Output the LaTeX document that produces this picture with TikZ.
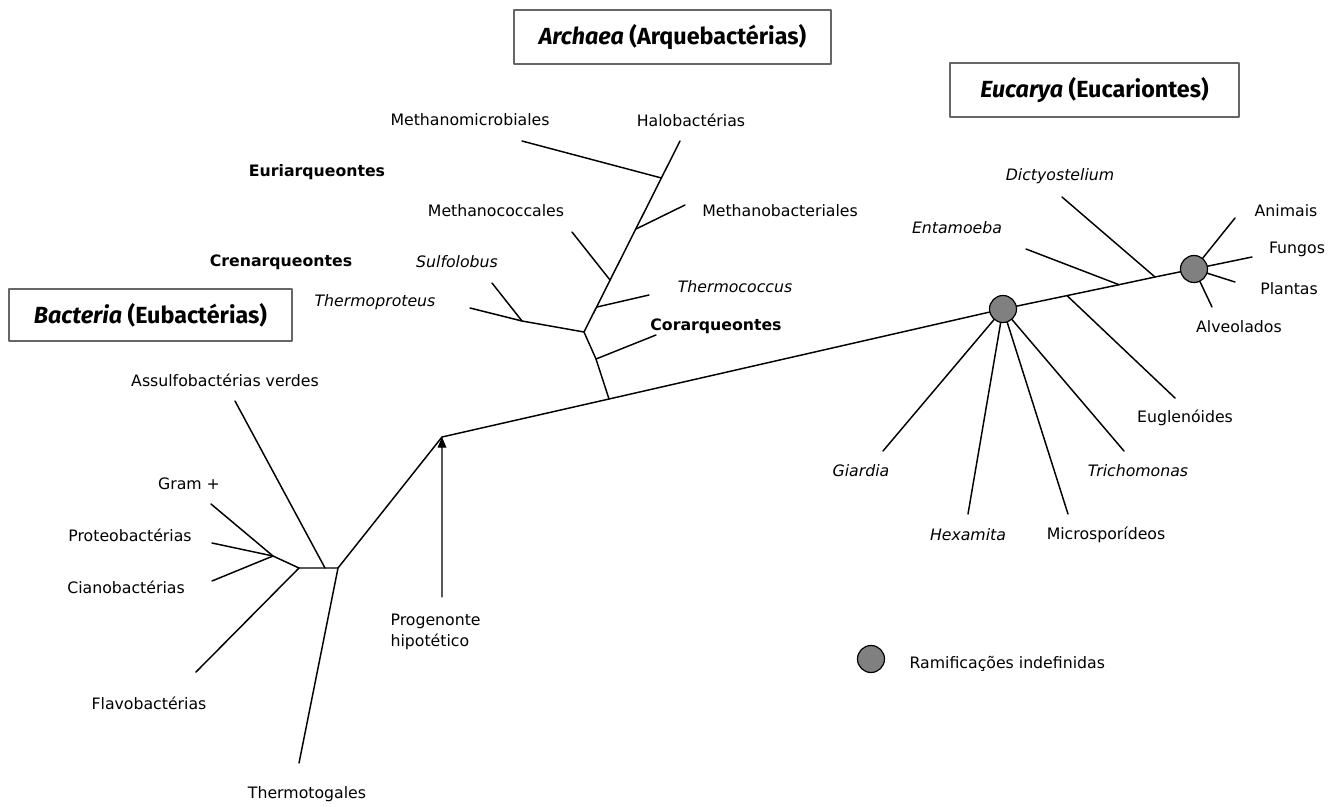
\documentclass[tikz,border=0pt]{standalone}
\usepackage{fontspec}
\setmainfont{DejaVu Sans}
\newfontfamily\titlefont{Fira Sans}
\usetikzlibrary{arrows.meta}

\begin{document}
\begin{tikzpicture}[x=0.75pt, y=-0.75pt, line cap=round, line join=round,
  branch/.style={line width=1.1pt},
  taxon/.style={inner sep=1pt, font=\fontsize{11.8}{15.75}\selectfont},
  sp/.style={taxon, font=\fontsize{11.8}{15.75}\selectfont\itshape},
  clade/.style={taxon, font=\fontsize{11.8}{15.75}\selectfont\bfseries},
  domainbox/.style={draw=gray!80!black, line width=0.8pt, inner sep=0pt,
    font=\titlefont\fontsize{17.5}{20}\selectfont\bfseries},
  hub/.style={circle, draw=black, fill=gray, line width=0.9pt,
    minimum size=20.25pt, inner sep=0pt}]
  \useasboundingbox (0,0) rectangle (1340,807);

  % domain boxes
  \node[domainbox, minimum width=212.25pt, minimum height=39pt] (bacteria) at (150.5,315) {{\itshape Bacteria} (Eubactérias)};
  \node[domainbox, minimum width=237.75pt, minimum height=40.5pt] (archaea) at (672.5,37) {{\itshape Archaea} (Arquebactérias)};
  \node[domainbox, minimum width=216.75pt, minimum height=40.5pt] (eucarya) at (1094.5,90) {{\itshape Eucarya} (Eucariontes)};

  % Bacteria
  \coordinate (prog) at (442,437);
  \coordinate (bR) at (338,568);
  \coordinate (bL) at (299,568);
  \coordinate (bG) at (273,556);
  \coordinate (bAs) at (325,568);
  \coordinate (tAs) at (235,401);
  \coordinate (tGr) at (211,504);
  \coordinate (tPr) at (212,543);
  \coordinate (tCi) at (212,581);
  \coordinate (tFl) at (196,672);
  \coordinate (tTt) at (299,763);
  \draw[branch] (prog) -- (bR) -- (bL) -- (bG) -- (tGr);
  \draw[branch] (bG) -- (tPr);
  \draw[branch] (bG) -- (tCi);
  \draw[branch] (bL) -- (tFl);
  \draw[branch] (bR) -- (tTt);
  \draw[branch] (bAs) -- (tAs);

  \node[taxon] (assulfo) at (225,380) {Assulfobactérias verdes};
  \node[taxon] (gram) at (189,484) {Gram +};
  \node[taxon] (proteo) at (130,535) {Proteobactérias};
  \node[taxon] (ciano) at (126,587) {Cianobactérias};
  \node[taxon] (flavo) at (149,703) {Flavobactérias};
  \node[taxon] (thermotoga) at (307,794) {Thermotogales};

  % progenote
  \coordinate (progtail) at (442,597);
  \draw[gray!70!black, line width=0.9pt, -{Triangle[length=8pt,width=6.5pt,black]}] (progtail) -- (prog);
  \node[taxon, anchor=west, align=left] (progenonte) at (389,632) {Progenonte\\hipotético};

  % Archaea
  \coordinate (aBase) at (609,399);
  \coordinate (aCor) at (596,359);
  \coordinate (aCren) at (584,332);
  \coordinate (aSul) at (522,321);
  \coordinate (aThc) at (597,307);
  \coordinate (aMcc) at (610,280);
  \coordinate (aMbt) at (636,229);
  \coordinate (aMmc) at (661.5,178);
  \coordinate (tHalo) at (680,141);
  \coordinate (tCor) at (656,335);
  \coordinate (tTpr) at (470,308);
  \coordinate (tSul) at (492,283);
  \coordinate (tThc) at (649,295);
  \coordinate (tMcc) at (572,232);
  \coordinate (tMbt) at (685,205);
  \coordinate (tMmc) at (522,141);
  \draw[branch] (aBase) -- (aCor) -- (aCren) -- (tHalo);
  \draw[branch] (aCor) -- (tCor);
  \draw[branch] (aCren) -- (aSul) -- (tTpr);
  \draw[branch] (aSul) -- (tSul);
  \draw[branch] (aThc) -- (tThc);
  \draw[branch] (aMcc) -- (tMcc);
  \draw[branch] (aMbt) -- (tMbt);
  \draw[branch] (aMmc) -- (tMmc);

  \node[taxon] (methmicro) at (470,120) {Methanomicrobiales};
  \node[taxon] (halo) at (691,120) {Halobactérias};
  \node[clade] (euri) at (317,172) {Euriarqueontes};
  \node[taxon] (methcocc) at (496,211) {Methanococcales};
  \node[taxon] (methbact) at (780,211) {Methanobacteriales};
  \node[clade] (cren) at (281,262) {Crenarqueontes};
  \node[sp] (sulfo) at (457,262) {Sulfolobus};
  \node[sp] (thermoprot) at (375,302) {Thermoproteus};
  \node[sp] (thermococ) at (735,287) {Thermococcus};
  \node[clade] (corarq) at (716,326) {Corarqueontes};

  % Eucarya
  \coordinate (e1) at (1003,309);
  \coordinate (e2) at (1194,269);
  \coordinate (eEug) at (1067,295.6);
  \coordinate (eEnt) at (1119,284.7);
  \coordinate (eDic) at (1155,277);
  \coordinate (tEug) at (1175,398);
  \coordinate (tEnt) at (1026,249);
  \coordinate (tDic) at (1062,197);
  \coordinate (tGia) at (883,451);
  \coordinate (tHex) at (968,514);
  \coordinate (tMic) at (1068,514);
  \coordinate (tTri) at (1124,451);
  \coordinate (tAni) at (1235,218);
  \coordinate (tFun) at (1252,257);
  \coordinate (tPla) at (1235,282);
  \coordinate (tAlv) at (1212,307);
  \draw[branch] (prog) -- (aBase) -- (e1) -- (eEug) -- (eEnt) -- (eDic) -- (e2);
  \draw[branch] (eEug) -- (tEug);
  \draw[branch] (eEnt) -- (tEnt);
  \draw[branch] (eDic) -- (tDic);
  \foreach \t in {tGia,tHex,tMic,tTri}
    \draw[branch] (e1) -- (\t);
  \foreach \t in {tAni,tFun,tPla,tAlv}
    \draw[branch] (e2) -- (\t);
  \node[hub] (hub1) at (e1) {};
  \node[hub] (hub2) at (e2) {};

  \node[sp] (dicty) at (1060,176) {Dictyostelium};
  \node[sp] (entamoeba) at (957,228) {Entamoeba};
  \node[taxon] (animais) at (1286,211) {Animais};
  \node[taxon] (fungos) at (1297,249) {Fungos};
  \node[taxon] (plantas) at (1289,289) {Plantas};
  \node[taxon] (alveol) at (1239,327) {Alveolados};
  \node[taxon] (euglen) at (1185,418) {Euglenóides};
  \node[sp] (giardia) at (861,471) {Giardia};
  \node[sp] (tricho) at (1138,471) {Trichomonas};
  \node[sp] (hexamita) at (968,535) {Hexamita};
  \node[taxon] (microsp) at (1106,535) {Microsporídeos};

  % legend
  \node[hub] (legendhub) at (871,659) {};
  \node[taxon, anchor=west] (legendtext) at (908,664) {Ramificações indefinidas};
\end{tikzpicture}
\end{document}
